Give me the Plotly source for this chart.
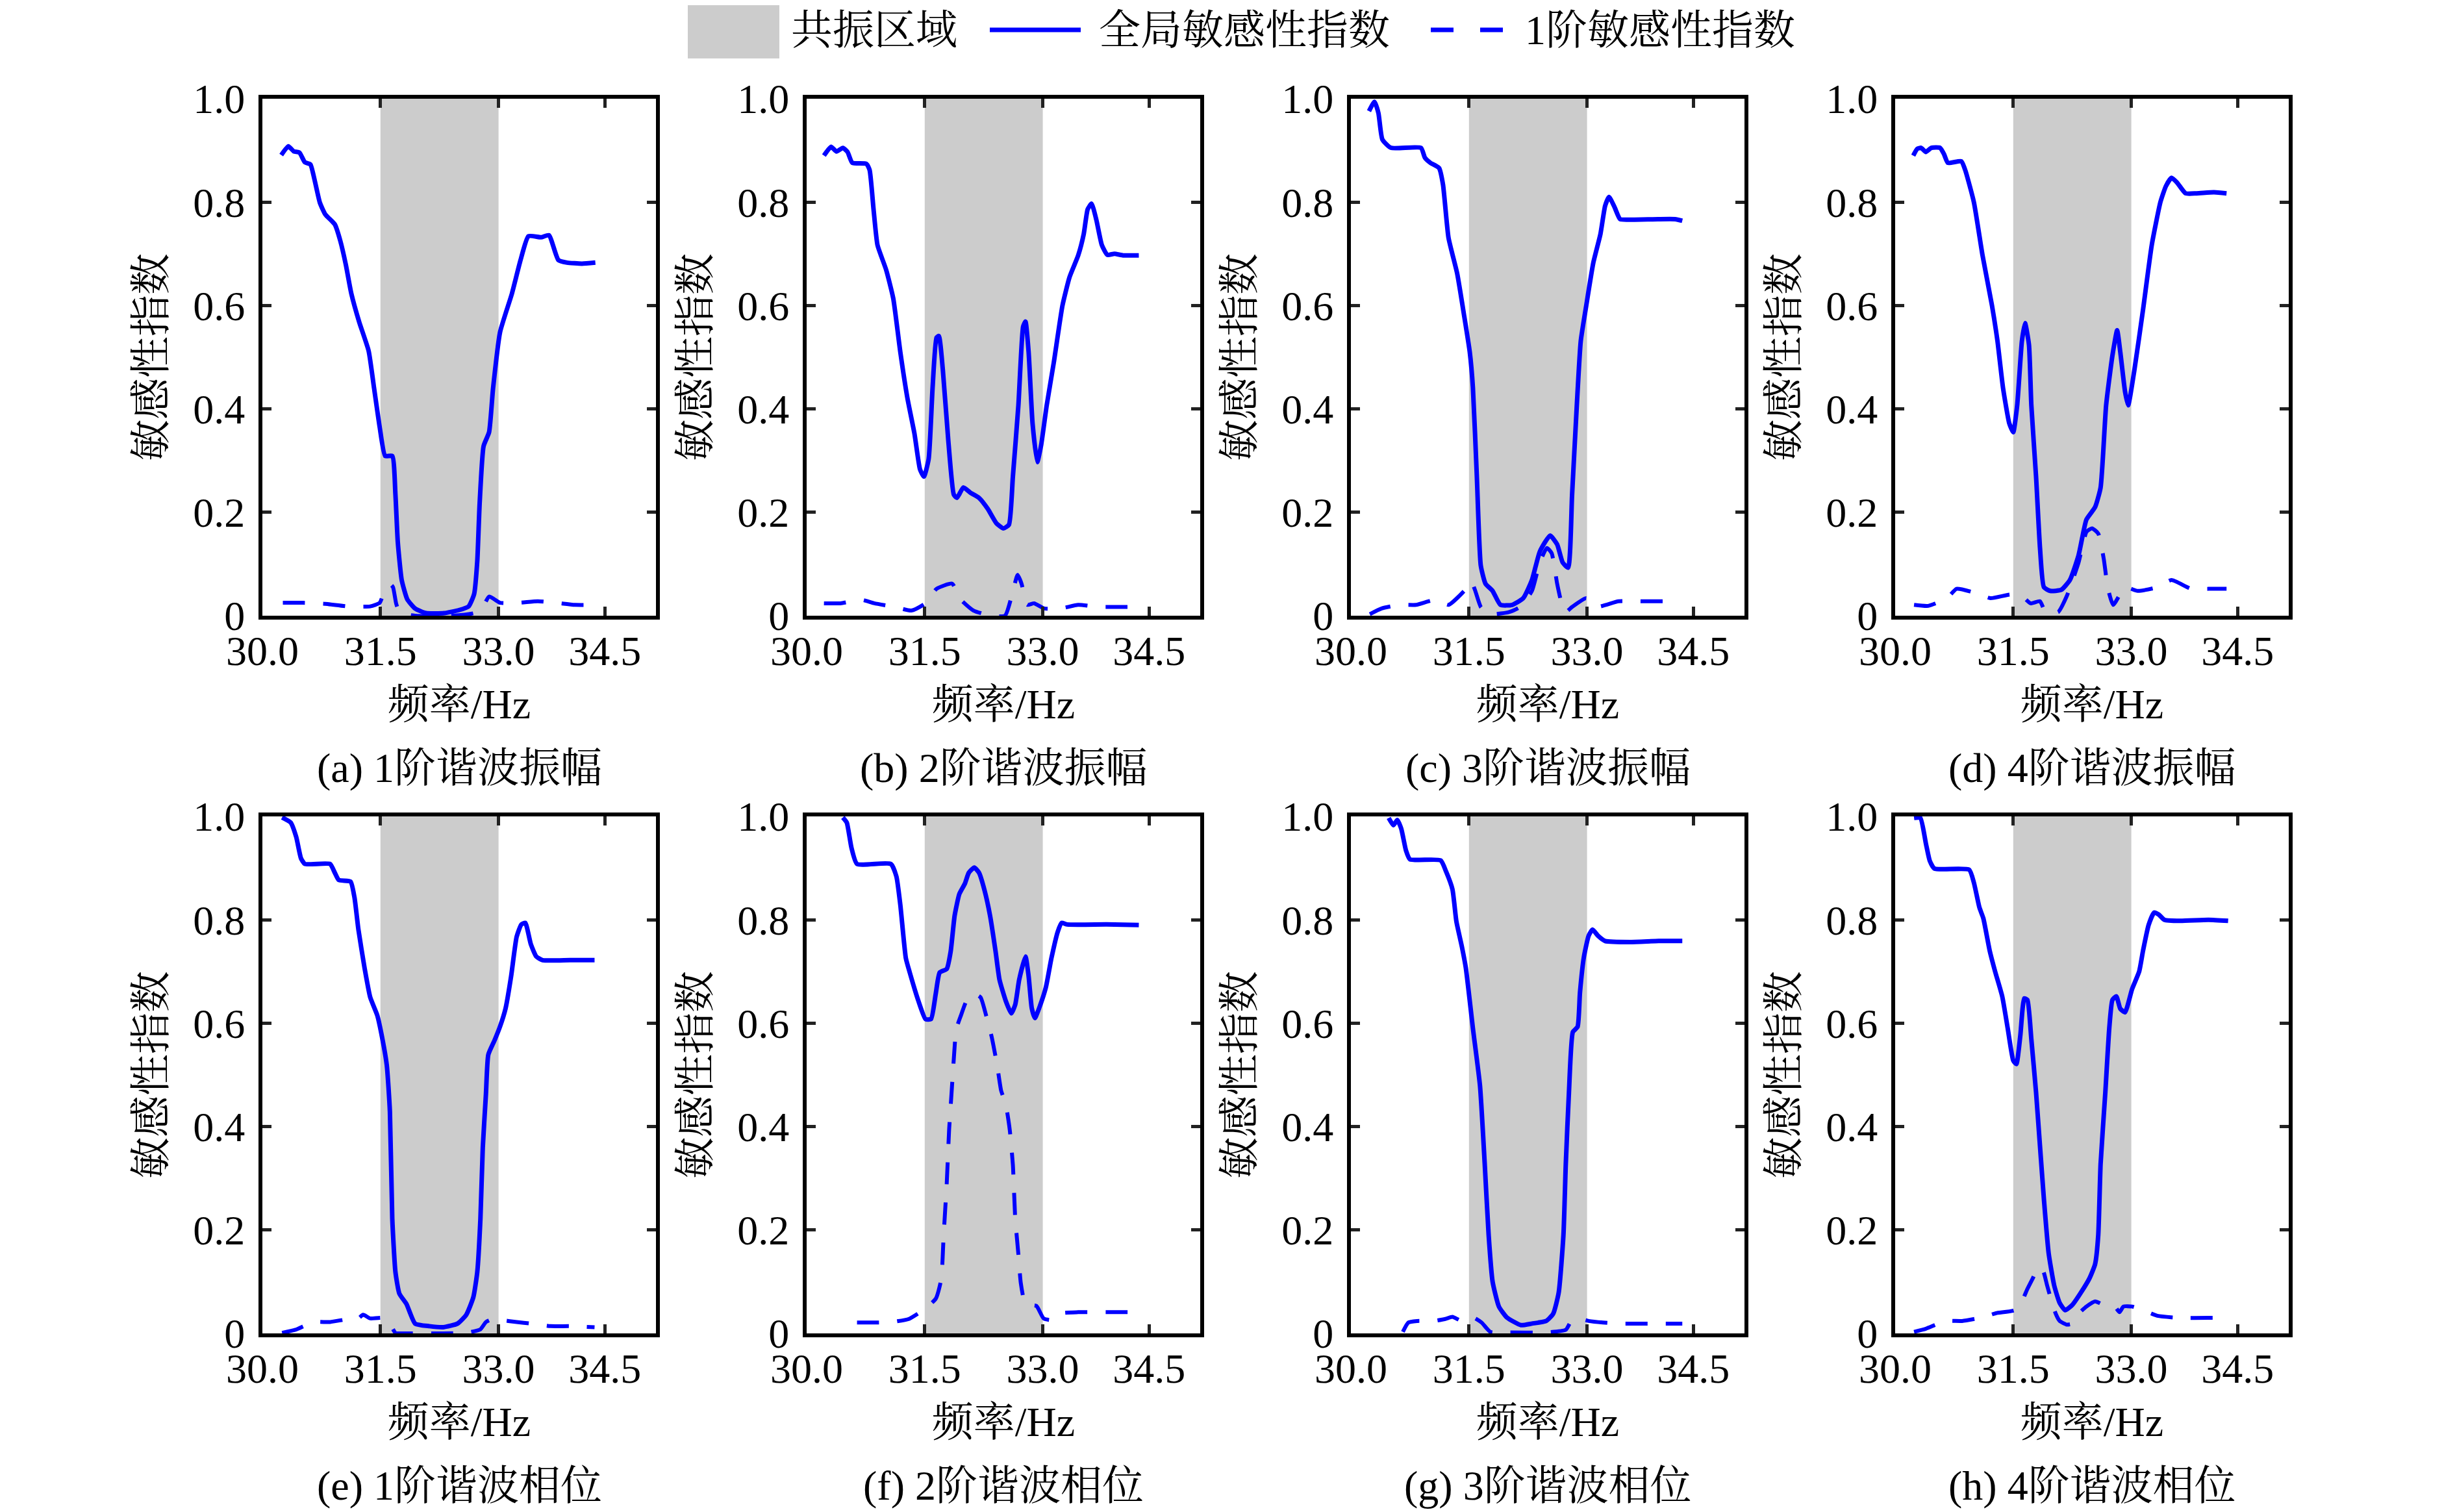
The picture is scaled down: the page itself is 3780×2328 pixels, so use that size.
import plotly.graph_objects as go

W, H = 3780, 2328

RES_BAND = [31.5, 33.0]
X_TICK_VALS = [30.0, 31.5, 33.0, 34.35]
X_TICK_TEXT = ["30.0", "31.5", "33.0", "34.5"]
Y_TICK_VALS = [0, 0.2, 0.4, 0.6, 0.8, 1.0]
Y_TICK_TEXT = ["0", "0.2", "0.4", "0.6", "0.8", "1.0"]
CAPTIONS = ["(a) 1阶谐波振幅", "(b) 2阶谐波振幅", "(c) 3阶谐波振幅", "(d) 4阶谐波振幅",
            "(e) 1阶谐波相位", "(f) 2阶谐波相位", "(g) 3阶谐波相位", "(h) 4阶谐波相位"]
LEGEND_NAMES = ["共振区域", "全局敏感性指数", "1阶敏感性指数"]

# (a) 1阶谐波振幅
A_G_F = [30.24, 30.33, 30.40, 30.47, 30.54, 30.61, 30.66, 30.73, 30.80, 30.92, 30.99, 31.06, 31.13, 31.23,
         31.35, 31.42, 31.49, 31.56, 31.65, 31.69, 31.72, 31.77, 31.84, 31.94, 32.08, 32.31, 32.50, 32.62,
         32.69, 32.73, 32.76, 32.81, 32.88, 32.93, 33.02, 33.17, 33.28, 33.38, 33.54, 33.64, 33.76, 33.87,
         34.06, 34.23]
A_G_S = [0.891, 0.908, 0.898, 0.896, 0.877, 0.873, 0.845, 0.799, 0.776, 0.757, 0.725, 0.679, 0.623, 0.568,
         0.512, 0.439, 0.365, 0.309, 0.309, 0.235, 0.143, 0.069, 0.032, 0.014, 0.005, 0.005, 0.011, 0.018,
         0.042, 0.106, 0.217, 0.328, 0.355, 0.439, 0.549, 0.623, 0.688, 0.734, 0.732, 0.736, 0.688, 0.683,
         0.681, 0.683]
A_1_F = [30.26, 30.52, 30.80, 31.09, 31.37, 31.49, 31.56, 31.63, 31.66, 31.70, 31.75, 31.94, 32.41, 32.69,
         32.79, 32.88, 33.02, 33.26, 33.50, 33.73, 33.97, 34.20]
A_1_S = [0.025, 0.025, 0.023, 0.018, 0.018, 0.025, 0.051, 0.060, 0.055, 0.023, 0.005, 0.0, 0.0, 0.005,
         0.014, 0.037, 0.025, 0.025, 0.028, 0.025, 0.021, 0.021]

# (b) 2阶谐波振幅
B_G_F = [30.22, 30.31, 30.38, 30.46, 30.52, 30.58, 30.76, 30.80, 30.85, 30.90, 31.01, 31.10, 31.19, 31.28,
         31.37, 31.44, 31.49, 31.55, 31.60, 31.65, 31.68, 31.73, 31.80, 31.87, 31.91, 31.99, 32.08, 32.19,
         32.30, 32.41, 32.50, 32.57, 32.62, 32.69, 32.75, 32.78, 32.82, 32.87, 32.93, 32.98, 33.05, 33.14,
         33.25, 33.34, 33.45, 33.52, 33.57, 33.62, 33.68, 33.75, 33.82, 33.91, 34.02, 34.22]
B_G_S = [0.890, 0.907, 0.898, 0.905, 0.897, 0.876, 0.874, 0.862, 0.786, 0.717, 0.669, 0.614, 0.510, 0.421,
         0.352, 0.283, 0.269, 0.303, 0.441, 0.538, 0.541, 0.476, 0.338, 0.234, 0.228, 0.248, 0.238, 0.228,
         0.207, 0.179, 0.169, 0.176, 0.269, 0.407, 0.559, 0.569, 0.510, 0.372, 0.297, 0.331, 0.407, 0.490,
         0.600, 0.655, 0.697, 0.738, 0.786, 0.797, 0.766, 0.717, 0.698, 0.700, 0.697, 0.697]
B_1_F = [30.22, 30.43, 30.69, 30.86, 31.12, 31.33, 31.51, 31.65, 31.85, 31.94, 32.12, 32.34, 32.52, 32.61,
         32.68, 32.73, 32.80, 32.89, 33.02, 33.23, 33.45, 33.70, 33.91, 34.22]
B_1_S = [0.024, 0.024, 0.031, 0.024, 0.017, 0.010, 0.024, 0.052, 0.062, 0.034, 0.010, 0.0, 0.0, 0.041,
         0.079, 0.062, 0.021, 0.024, 0.014, 0.014, 0.021, 0.017, 0.017, 0.017]

# (c) 3阶谐波振幅
C_G_F = [30.23, 30.30, 30.35, 30.40, 30.51, 30.89, 30.94, 31.01, 31.12, 31.17, 31.24, 31.35, 31.44, 31.51,
         31.55, 31.60, 31.65, 31.71, 31.80, 31.90, 32.05, 32.19, 32.30, 32.40, 32.53, 32.62, 32.69, 32.76,
         32.81, 32.87, 32.92, 32.99, 33.08, 33.17, 33.23, 33.28, 33.35, 33.42, 33.55, 33.90, 34.12, 34.21]
C_G_S = [0.976, 0.994, 0.972, 0.921, 0.905, 0.905, 0.886, 0.876, 0.866, 0.834, 0.731, 0.662, 0.579, 0.510,
         0.441, 0.269, 0.097, 0.062, 0.048, 0.021, 0.021, 0.034, 0.069, 0.124, 0.155, 0.138, 0.103, 0.093,
         0.234, 0.407, 0.531, 0.600, 0.683, 0.738, 0.793, 0.810, 0.790, 0.767, 0.766, 0.767, 0.767, 0.764]
C_1_F = [30.24, 30.39, 30.62, 30.83, 31.08, 31.24, 31.44, 31.53, 31.58, 31.65, 31.76, 32.01, 32.15, 32.30,
         32.40, 32.49, 32.55, 32.62, 32.67, 32.73, 32.81, 32.99, 33.12, 33.40, 33.65, 34.05]
C_1_S = [0.003, 0.014, 0.021, 0.021, 0.031, 0.021, 0.048, 0.066, 0.048, 0.017, 0.003, 0.007, 0.017, 0.048,
         0.103, 0.131, 0.121, 0.062, 0.028, 0.007, 0.017, 0.034, 0.017, 0.028, 0.028, 0.028]

# (d) 4阶谐波振幅
D_G_F = [30.23, 30.28, 30.33, 30.39, 30.46, 30.57, 30.62, 30.67, 30.84, 30.89, 31.00, 31.11, 31.23, 31.30,
         31.37, 31.45, 31.50, 31.55, 31.61, 31.65, 31.70, 31.73, 31.79, 31.84, 31.89, 31.97, 32.11, 32.22,
         32.33, 32.43, 32.54, 32.61, 32.68, 32.76, 32.82, 32.86, 32.92, 32.96, 33.04, 33.15, 33.26, 33.37,
         33.44, 33.51, 33.58, 33.69, 33.83, 34.05, 34.21]
D_G_S = [0.890, 0.903, 0.905, 0.897, 0.905, 0.905, 0.893, 0.876, 0.879, 0.862, 0.800, 0.697, 0.600, 0.531,
         0.441, 0.372, 0.355, 0.407, 0.531, 0.566, 0.524, 0.407, 0.269, 0.131, 0.055, 0.048, 0.050, 0.069,
         0.117, 0.186, 0.210, 0.248, 0.407, 0.503, 0.552, 0.510, 0.434, 0.407, 0.476, 0.593, 0.717, 0.800,
         0.831, 0.847, 0.838, 0.817, 0.817, 0.819, 0.817]
D_1_F = [30.24, 30.42, 30.66, 30.78, 31.00, 31.21, 31.46, 31.61, 31.72, 31.84, 31.91, 32.07, 32.18, 32.33,
         32.43, 32.50, 32.58, 32.65, 32.70, 32.77, 32.92, 33.08, 33.33, 33.51, 33.76, 33.98, 34.21]
D_1_S = [0.021, 0.019, 0.034, 0.052, 0.045, 0.034, 0.041, 0.038, 0.024, 0.028, 0.007, 0.007, 0.038, 0.103,
         0.162, 0.169, 0.159, 0.110, 0.055, 0.021, 0.055, 0.048, 0.055, 0.069, 0.052, 0.052, 0.052]

# (e) 1阶谐波相位
E_G_F = [30.25, 30.36, 30.43, 30.49, 30.54, 30.86, 30.92, 30.97, 31.12, 31.17, 31.22, 31.30, 31.37, 31.46,
         31.51, 31.58, 31.62, 31.65, 31.69, 31.74, 31.83, 31.94, 32.12, 32.30, 32.48, 32.59, 32.68, 32.73,
         32.77, 32.80, 32.84, 32.87, 32.95, 33.02, 33.09, 33.16, 33.23, 33.29, 33.34, 33.41, 33.48, 33.56,
         33.91, 34.22]
E_G_S = [0.998, 0.988, 0.960, 0.919, 0.908, 0.908, 0.891, 0.877, 0.874, 0.843, 0.781, 0.705, 0.650, 0.615,
         0.581, 0.519, 0.429, 0.222, 0.119, 0.077, 0.057, 0.019, 0.014, 0.012, 0.019, 0.036, 0.070, 0.119,
         0.222, 0.360, 0.463, 0.539, 0.567, 0.594, 0.629, 0.691, 0.767, 0.791, 0.794, 0.753, 0.729, 0.722,
         0.722, 0.722]
E_1_F = [30.25, 30.42, 30.65, 30.86, 31.10, 31.21, 31.28, 31.37, 31.53, 31.62, 31.69, 31.80, 32.30, 32.59,
         32.77, 32.84, 32.93, 33.02, 33.23, 33.41, 33.66, 33.91, 34.22]
E_1_S = [0.001, 0.007, 0.022, 0.022, 0.028, 0.028, 0.036, 0.029, 0.030, 0.019, 0.001, 0.0, 0.0, 0.001,
         0.008, 0.022, 0.028, 0.026, 0.022, 0.019, 0.014, 0.014, 0.012]

# (f) 2阶谐波相位
F_G_F = [30.46, 30.51, 30.57, 30.64, 31.07, 31.14, 31.19, 31.26, 31.31, 31.42, 31.51, 31.58, 31.64, 31.69,
         31.78, 31.83, 31.88, 31.94, 32.01, 32.06, 32.13, 32.19, 32.26, 32.33, 32.40, 32.45, 32.53, 32.60,
         32.65, 32.70, 32.78, 32.82, 32.86, 32.90, 32.97, 33.04, 33.11, 33.19, 33.24, 33.31, 33.81, 34.22]
F_G_S = [0.998, 0.988, 0.939, 0.908, 0.908, 0.884, 0.829, 0.726, 0.698, 0.643, 0.608, 0.608, 0.657, 0.698,
         0.705, 0.739, 0.808, 0.850, 0.870, 0.891, 0.901, 0.891, 0.857, 0.808, 0.739, 0.684, 0.643, 0.619,
         0.636, 0.684, 0.729, 0.691, 0.629, 0.610, 0.636, 0.670, 0.726, 0.777, 0.794, 0.791, 0.791, 0.790]
F_1_F = [30.64, 30.85, 31.08, 31.30, 31.49, 31.64, 31.71, 31.74, 31.78, 31.81, 31.84, 31.87, 31.90, 31.96,
         32.03, 32.13, 32.21, 32.28, 32.35, 32.42, 32.47, 32.53, 32.58, 32.62, 32.65, 32.69, 32.72, 32.77,
         32.83, 32.92, 33.01, 33.10, 33.24, 33.45, 33.81, 34.22]
F_1_S = [0.021, 0.021, 0.022, 0.028, 0.046, 0.067, 0.105, 0.188, 0.291, 0.394, 0.463, 0.532, 0.588, 0.615,
         0.643, 0.657, 0.650, 0.615, 0.574, 0.519, 0.470, 0.443, 0.394, 0.326, 0.222, 0.153, 0.098, 0.060,
         0.055, 0.053, 0.029, 0.026, 0.039, 0.041, 0.041, 0.041]

# (g) 3阶谐波相位
G_G_F = [30.48, 30.54, 30.59, 30.64, 30.70, 30.75, 31.14, 31.21, 31.29, 31.34, 31.41, 31.46, 31.55, 31.64,
         31.70, 31.75, 31.80, 31.88, 31.98, 32.16, 32.30, 32.48, 32.57, 32.64, 32.70, 32.73, 32.77, 32.82,
         32.88, 32.91, 32.96, 33.02, 33.07, 33.14, 33.23, 33.55, 33.91, 34.21]
G_G_S = [0.997, 0.983, 0.993, 0.976, 0.934, 0.917, 0.915, 0.893, 0.859, 0.797, 0.748, 0.707, 0.590, 0.479,
         0.328, 0.190, 0.100, 0.052, 0.031, 0.016, 0.019, 0.024, 0.038, 0.079, 0.190, 0.328, 0.466, 0.583,
         0.593, 0.659, 0.728, 0.769, 0.781, 0.769, 0.759, 0.757, 0.759, 0.759]
G_1_F = [30.66, 30.73, 30.84, 31.05, 31.20, 31.29, 31.41, 31.55, 31.66, 31.77, 31.95, 32.48, 32.73, 32.80,
         32.91, 33.02, 33.20, 33.41, 33.73, 34.21]
G_1_S = [0.003, 0.021, 0.024, 0.024, 0.028, 0.032, 0.024, 0.031, 0.021, 0.003, 0.002, 0.002, 0.007, 0.024,
         0.028, 0.024, 0.021, 0.019, 0.019, 0.019]

# (h) 4阶谐波相位
H_G_F = [30.24, 30.32, 30.39, 30.44, 30.50, 30.94, 31.00, 31.07, 31.12, 31.20, 31.27, 31.36, 31.43, 31.50,
         31.54, 31.59, 31.64, 31.68, 31.73, 31.79, 31.84, 31.89, 31.95, 32.02, 32.09, 32.16, 32.25, 32.36,
         32.47, 32.54, 32.58, 32.61, 32.67, 32.72, 32.76, 32.81, 32.86, 32.92, 33.01, 33.10, 33.15, 33.22,
         33.29, 33.35, 33.42, 33.62, 33.98, 34.23]
H_G_S = [0.997, 0.997, 0.948, 0.914, 0.899, 0.897, 0.872, 0.824, 0.803, 0.741, 0.700, 0.652, 0.590, 0.528,
         0.521, 0.576, 0.648, 0.645, 0.569, 0.466, 0.362, 0.259, 0.155, 0.093, 0.059, 0.045, 0.055, 0.079,
         0.107, 0.134, 0.190, 0.328, 0.466, 0.590, 0.645, 0.652, 0.628, 0.621, 0.666, 0.700, 0.741, 0.790,
         0.814, 0.810, 0.800, 0.798, 0.800, 0.798]
H_1_F = [30.24, 30.39, 30.64, 30.85, 31.11, 31.28, 31.52, 31.61, 31.68, 31.75, 31.82, 31.88, 31.93, 31.98,
         32.04, 32.09, 32.18, 32.25, 32.33, 32.43, 32.54, 32.65, 32.79, 32.85, 32.90, 33.01, 33.15, 33.33,
         33.62, 33.98, 34.23]
H_1_S = [0.003, 0.009, 0.024, 0.024, 0.031, 0.039, 0.045, 0.062, 0.086, 0.107, 0.128, 0.121, 0.093, 0.066,
         0.038, 0.024, 0.017, 0.019, 0.038, 0.052, 0.062, 0.055, 0.052, 0.041, 0.052, 0.052, 0.045, 0.034,
         0.030, 0.030, 0.030]

PANELS = [
    (A_G_F, A_G_S, A_1_F, A_1_S), (B_G_F, B_G_S, B_1_F, B_1_S),
    (C_G_F, C_G_S, C_1_F, C_1_S), (D_G_F, D_G_S, D_1_F, D_1_S),
    (E_G_F, E_G_S, E_1_F, E_1_S), (F_G_F, F_G_S, F_1_F, F_1_S),
    (G_G_F, G_G_S, G_1_F, G_1_S), (H_G_F, H_G_S, H_1_F, H_1_S),
]

FONT = "Liberation Serif, 'Noto Serif CJK SC', 'Noto Sans CJK SC', serif"
FS = 64
BLUE = "#0000ff"
GRAY = "#cccccc"

# the page body adds an 8px margin, so everything is placed 8px up/left
SHIFT = 8
COL_LEFT = [404 - SHIFT, 1242 - SHIFT, 2080 - SHIFT, 2918 - SHIFT]
PANEL_W = 606
ROW_TOP = [152 - SHIFT, 1257 - SHIFT]
PANEL_H = 796


def px(x):
    return x / W


def py(y):
    return 1 - y / H


fig = go.Figure()
layout = {}

for i, (gf, gs, ff, fs) in enumerate(PANELS):
    r, c = divmod(i, 4)
    n = i + 1
    sfx = "" if n == 1 else str(n)
    x0 = px(COL_LEFT[c])
    x1 = px(COL_LEFT[c] + PANEL_W)
    y1 = py(ROW_TOP[r])
    y0 = py(ROW_TOP[r] + PANEL_H)

    fig.add_trace(go.Scatter(x=gf, y=gs, mode="lines", xaxis="x" + sfx, yaxis="y" + sfx,
                             line=dict(color=BLUE, width=7, shape="spline", smoothing=0.5),
                             showlegend=False))
    fig.add_trace(go.Scatter(x=ff, y=fs, mode="lines", xaxis="x" + sfx, yaxis="y" + sfx,
                             line=dict(color=BLUE, width=6, dash="34px,28px", shape="spline", smoothing=0.5),
                             showlegend=False))

    axis_common = dict(showgrid=False, zeroline=False, showline=True, linecolor="black", linewidth=6,
                       mirror="ticks", ticks="inside", ticklen=14, tickwidth=5, tickcolor="#222222",
                       automargin=False, tickfont=dict(family=FONT, size=FS, color="black"))
    layout["xaxis" + sfx] = dict(axis_common, domain=[x0, x1], anchor="y" + sfx, range=[30, 35],
                                 tickvals=X_TICK_VALS, ticktext=X_TICK_TEXT, ticklabelstandoff=-7,
                                 title=dict(text="频率/Hz", font=dict(family=FONT, size=FS, color="black"),
                                            standoff=26))
    layout["yaxis" + sfx] = dict(axis_common, domain=[y0, y1], anchor="x" + sfx, range=[0, 1],
                                 tickvals=Y_TICK_VALS, ticktext=Y_TICK_TEXT, ticklabelstandoff=8,
                                 title=dict(text="敏感性指数", font=dict(family=FONT, size=FS, color="black"),
                                            standoff=24))

    fig.add_shape(type="rect", xref="x" + sfx, yref="y" + sfx + " domain",
                  x0=RES_BAND[0], x1=RES_BAND[1], y0=0, y1=1,
                  fillcolor=GRAY, line=dict(width=0), layer="below")

    fig.add_annotation(text=CAPTIONS[i], xref="paper", yref="paper", x=(x0 + x1) / 2,
                       y=py(ROW_TOP[r] + PANEL_H + 234),
                       showarrow=False, xanchor="center", yanchor="middle",
                       font=dict(family=FONT, size=FS, color="black"))

# legend row at the top
ly = py(46 - SHIFT)
fig.add_shape(type="rect", xref="paper", yref="paper", x0=px(1059 - SHIFT), x1=px(1200 - SHIFT),
              y0=py(90 - SHIFT), y1=1.0, fillcolor=GRAY, line=dict(width=0))
fig.add_shape(type="line", xref="paper", yref="paper", x0=px(1524 - SHIFT), x1=px(1664 - SHIFT),
              y0=ly, y1=ly, line=dict(color=BLUE, width=7))
fig.add_shape(type="line", xref="paper", yref="paper", x0=px(2203 - SHIFT), x1=px(2316 - SHIFT),
              y0=ly, y1=ly, line=dict(color=BLUE, width=7, dash="35px,41px"))
for name, lx in zip(LEGEND_NAMES, [1216, 1690, 2346]):
    fig.add_annotation(text=name, xref="paper", yref="paper", x=px(lx - SHIFT), y=ly, showarrow=False,
                       xanchor="left", yanchor="middle", font=dict(family=FONT, size=FS, color="black"))

fig.update_layout(width=W, height=H, autosize=False,
                  margin=dict(l=0, r=0, t=0, b=0, autoexpand=False),
                  paper_bgcolor="white", plot_bgcolor="white", showlegend=False, **layout)

fig.write_html("out.html")
